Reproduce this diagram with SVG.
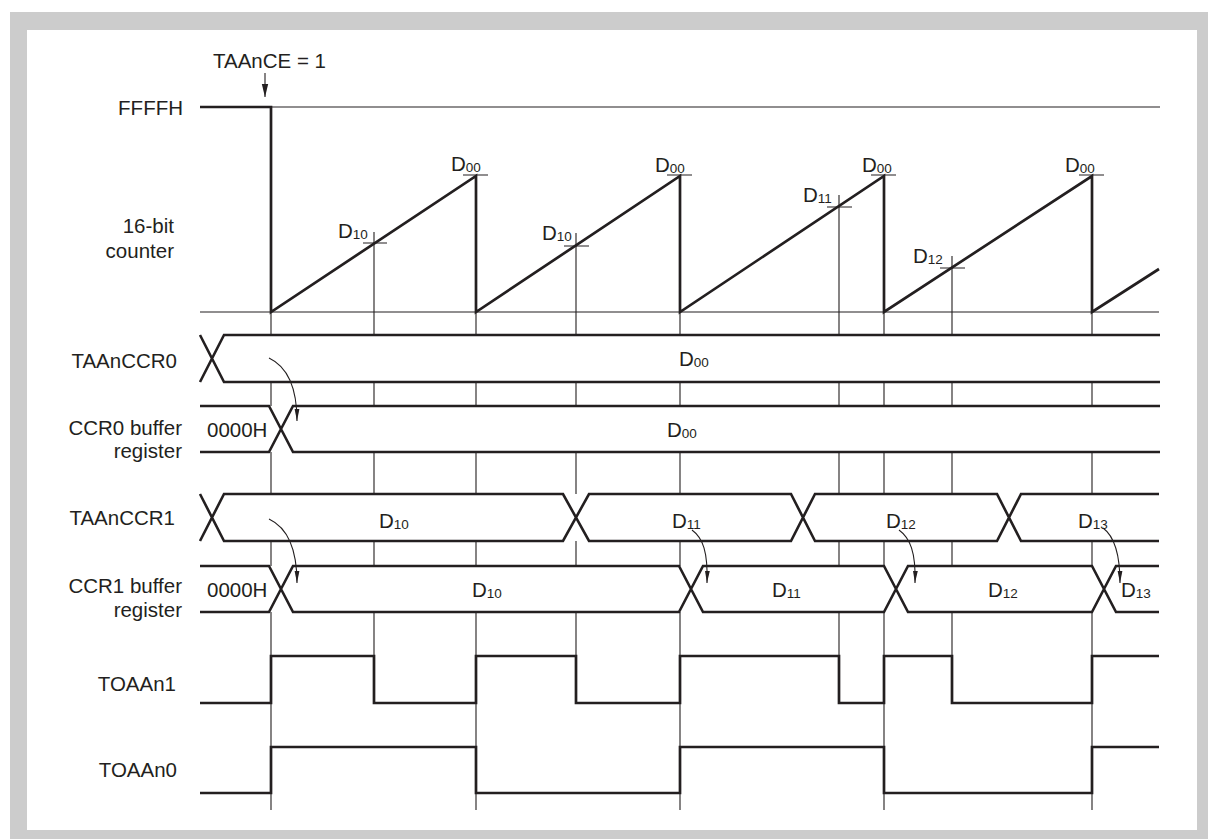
<svg xmlns="http://www.w3.org/2000/svg" width="1208" height="839" viewBox="0 0 1208 839">
<style>
text{font-family:"Liberation Sans",Arial,Helvetica,sans-serif;font-size:20.5px;fill:#231f20}
.sub{font-size:13.5px}
.thin{fill:none;stroke:#231f20;stroke-width:1.1}
.thick{fill:none;stroke:#231f20;stroke-width:2.7;stroke-linejoin:miter}
.bus{fill:none;stroke:#231f20;stroke-width:2.6}
.busbg{fill:#ffffff;stroke:none}
.arr{fill:none;stroke:#231f20;stroke-width:1.1}
</style>
<defs>
<marker id="ah" markerUnits="userSpaceOnUse" markerWidth="12" markerHeight="6" refX="12" refY="3" orient="auto"><path d="M0,0.6 L12,3 L0,5.4 Z" fill="#231f20"/></marker>
<marker id="ah2" markerUnits="userSpaceOnUse" markerWidth="13" markerHeight="8" refX="13" refY="4" orient="auto"><path d="M0,0.8 L13,4 L0,7.2 Z" fill="#231f20"/></marker>
</defs>
<rect x="0" y="0" width="1208" height="839" fill="#ffffff"/>
<g id="frame">
<rect x="10" y="12" width="1198" height="827" fill="#cccccc"/>
<rect x="27" y="30" width="1170" height="800" fill="#ffffff"/>
</g>
<g id="grid">
<path class="thin" d="M271,107 V810 M476,176 V810 M680,176 V810 M884,176 V810 M1092,176 V810 M374,232 V703 M576,233 V703 M839,195 V703 M952,256 V703"/>
<path class="thin" d="M271,107 H1160 M200,312 H1159"/>
<path class="thin" d="M363,243 H387 M463,175 H488 M564,246 H589 M667,175 H692 M827,207 H852 M871,175 H896 M940,268 H965 M1079,175 H1104"/>
</g>
<g id="labels">
<text x="213" y="68">TAAnCE = 1</text>
<text x="183" y="115" text-anchor="end">FFFFH</text>
<text x="174" y="233" text-anchor="end">16-bit</text>
<text x="174" y="258" text-anchor="end">counter</text>
<text x="177" y="368" text-anchor="end">TAAnCCR0</text>
<text x="182" y="435" text-anchor="end">CCR0 buffer</text>
<text x="182" y="458" text-anchor="end">register</text>
<text x="175" y="525" text-anchor="end">TAAnCCR1</text>
<text x="182" y="593" text-anchor="end">CCR1 buffer</text>
<text x="182" y="617" text-anchor="end">register</text>
<text x="176" y="691" text-anchor="end">TOAAn1</text>
<text x="177" y="777" text-anchor="end">TOAAn0</text>
</g>
<g id="counter">
<path class="thick" d="M200,107 H271 V312 L476,176 V312 L680,176 V312 L884,176 V312 L1092,176 V312 L1159,269"/>
<text x="338" y="238">D<tspan class="sub" dy="1">10</tspan></text>
<text x="451" y="171">D<tspan class="sub" dy="1">00</tspan></text>
<text x="542" y="240">D<tspan class="sub" dy="1">10</tspan></text>
<text x="655" y="172">D<tspan class="sub" dy="1">00</tspan></text>
<text x="803" y="202">D<tspan class="sub" dy="1">11</tspan></text>
<text x="862" y="172">D<tspan class="sub" dy="1">00</tspan></text>
<text x="913" y="263">D<tspan class="sub" dy="1">12</tspan></text>
<text x="1065" y="172">D<tspan class="sub" dy="1">00</tspan></text>
</g>
<g id="taanccr0">
<rect class="busbg" x="200" y="335" width="960" height="47"/>
<path class="bus" d="M200,335 L224,382 H1160 M200,382 L224,335 H1160"/>
<text x="679" y="366">D<tspan class="sub" dy="1">00</tspan></text>
</g>
<g id="ccr0buf">
<rect class="busbg" x="200" y="406" width="960" height="46"/>
<path class="bus" d="M200,406 H269 L293,452 H1160 M200,452 H269 L293,406 H1160"/>
<text x="207" y="437">0000H</text>
<text x="667" y="437">D<tspan class="sub" dy="1">00</tspan></text>
</g>
<g id="taanccr1">
<rect class="busbg" x="200" y="494" width="960" height="47"/>
<path class="bus" d="M200,494 L224,541 H563 L589,494 H791 L815,541 H997 L1021,494 H1159 M200,541 L224,494 H563 L589,541 H791 L815,494 H997 L1021,541 H1159"/>
<text x="379" y="528">D<tspan class="sub" dy="1">10</tspan></text>
<text x="672" y="528">D<tspan class="sub" dy="1">11</tspan></text>
<text x="886" y="528">D<tspan class="sub" dy="1">12</tspan></text>
<text x="1078" y="528">D<tspan class="sub" dy="1">13</tspan></text>
</g>
<g id="ccr1buf">
<rect class="busbg" x="200" y="566" width="960" height="46"/>
<path class="bus" d="M200,566 H269 L293,612 H679 L703,566 H884 L908,612 H1092 L1116,566 H1159 M200,612 H269 L293,566 H679 L703,612 H884 L908,566 H1092 L1116,612 H1159"/>
<text x="207" y="597">0000H</text>
<text x="472" y="597">D<tspan class="sub" dy="1">10</tspan></text>
<text x="772" y="597">D<tspan class="sub" dy="1">11</tspan></text>
<text x="988" y="597">D<tspan class="sub" dy="1">12</tspan></text>
<text x="1121" y="597">D<tspan class="sub" dy="1">13</tspan></text>
</g>
<g id="toaan1">
<path class="thick" d="M200,703 H271 V656 H374 V703 H476 V656 H576 V703 H680 V656 H839 V703 H884 V656 H952 V703 H1092 V656 H1159"/>
</g>
<g id="toaan0">
<path class="thick" d="M200,793 H271 V747 H476 V793 H680 V747 H884 V793 H1092 V747 H1159"/>
</g>
<g id="connectors">
<path class="arr" d="M265,73 V97" marker-end="url(#ah2)"/>
<path class="arr" d="M269,358 C286,366 297,384 297,421" marker-end="url(#ah)"/>
<path class="arr" d="M269,519 C286,527 297,545 297,583" marker-end="url(#ah)"/>
<path class="arr" d="M692,530 C703,538 708,552 707,583" marker-end="url(#ah)"/>
<path class="arr" d="M899,530 C910,538 916,552 915,583" marker-end="url(#ah)"/>
<path class="arr" d="M1103,528 C1114,536 1120,552 1120,583" marker-end="url(#ah)"/>
</g>
</svg>
